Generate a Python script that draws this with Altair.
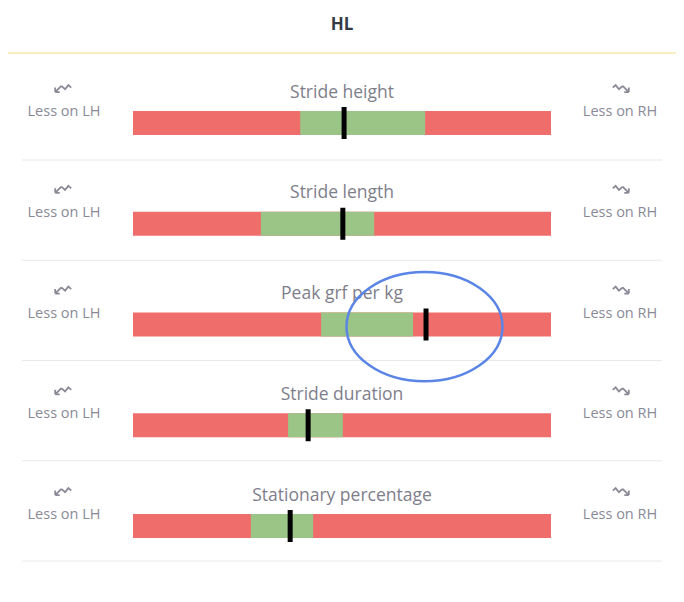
import altair as alt
import pandas as pd

panel_title = "HL"
metrics = ["Stride height", "Stride length", "Peak grf per kg", "Stride duration", "Stationary percentage"]
range_min = [0, 0, 0, 0, 0]
range_max = [100, 100, 100, 100, 100]
green_lo = [40.0, 30.6, 45.0, 37.1, 28.2]
green_hi = [69.9, 57.7, 67.0, 50.2, 43.1]
marker = [50.5, 50.2, 70.1, 41.9, 37.6]
left_label = "Less on LH"
right_label = "Less on RH"

W, H = 668, 586
ROW = 100.75
SEP_ROW = 100.25
rows = []
for i, m in enumerate(metrics):
    top = 103 + ROW * i
    rows.append(dict(metric=m, lo=range_min[i], hi=range_max[i], glo=green_lo[i], ghi=green_hi[i],
                     mk=marker[i], top=top, bot=top + 24, mtop=top - 4, mbot=top + 28,
                     ty=top - 18.5, ly=top + 1, sep=152 + SEP_ROW * i, ay=top - 23,
                     left=left_label, right=right_label))
df = pd.DataFrame(rows)

xs = alt.Scale(domain=[-29.9, 129.9])
ys = alt.Scale(domain=[0, H], reverse=True)
X = lambda f: alt.X(f, type="quantitative", scale=xs, axis=None)
Y = lambda f: alt.Y(f, type="quantitative", scale=ys, axis=None)

GREY = "#8a8a97"
LEFT_ICON = "M-0.2,-0.25L0.25,0.15L0.65,-0.35L1,-0.05M-0.2,-0.25L-0.95,0.5M-0.95,0.5L-0.95,-0.05M-0.95,0.5L-0.4,0.5"
RIGHT_ICON = "M0.2,-0.25L-0.25,0.15L-0.65,-0.35L-1,-0.05M0.2,-0.25L0.95,0.5M0.95,0.5L0.95,-0.05M0.95,0.5L0.4,0.5"

base = alt.Chart(df)
red = base.mark_rect(color="#ef6e6b").encode(x=X("lo"), x2="hi", y=Y("top"), y2="bot")
green = base.mark_rect(color="#9bc487").encode(x=X("glo"), x2="ghi", y=Y("top"), y2="bot")
mk = base.mark_rule(color="#000000", strokeWidth=5).encode(x=X("mk"), y=Y("mtop"), y2="mbot")
titles = base.mark_text(font="Open Sans", fontSize=17.5, color="#7e7e8b", baseline="middle").encode(
    x=alt.value(334), y=Y("ty"), text="metric:N")
seps = base.mark_rule(color="#e8e8e8", strokeWidth=1).encode(
    x=alt.value(14), x2=alt.value(654), y=Y("sep"))
lt = base.mark_text(font="Open Sans", fontSize=14.5, color=GREY, baseline="middle").encode(
    x=alt.value(56), y=Y("ly"), text="left:N")
rt = base.mark_text(font="Open Sans", fontSize=14.5, color=GREY, baseline="middle").encode(
    x=alt.value(612), y=Y("ly"), text="right:N")
la = base.mark_point(shape=LEFT_ICON, filled=False, stroke=GREY, strokeWidth=1.8, size=270, opacity=1).encode(
    x=alt.value(55), y=Y("ay"))
ra = base.mark_point(shape=RIGHT_ICON, filled=False, stroke=GREY, strokeWidth=1.8, size=270, opacity=1).encode(
    x=alt.value(613), y=Y("ay"))

one = alt.Chart(pd.DataFrame({"t": [panel_title]}))
title = one.mark_text(font="Open Sans", fontSize=17, fontWeight="bold", color="#333a45", baseline="middle").encode(
    x=alt.value(334), y=alt.value(17), text="t:N")
yline = one.mark_rule(color="#f8e9a8", strokeWidth=1.5).encode(x=alt.value(0), x2=alt.value(W), y=alt.value(45))
ellipse = one.mark_point(shape="M-1,0A1,0.7,0,1,1,1,0A1,0.7,0,1,1,-1,0Z", filled=False,
                         stroke="#5a85e6", strokeWidth=2.5, size=24336, opacity=1).encode(
    x=alt.value(416.5), y=alt.value(318.7))

chart = alt.layer(yline, title, seps, red, green, mk, titles, lt, rt, la, ra, ellipse).properties(
    width=W, height=H, autosize="none", padding=0
).configure_view(stroke=None)

chart.save("out.html", embed_options={"renderer": "svg", "actions": False})
